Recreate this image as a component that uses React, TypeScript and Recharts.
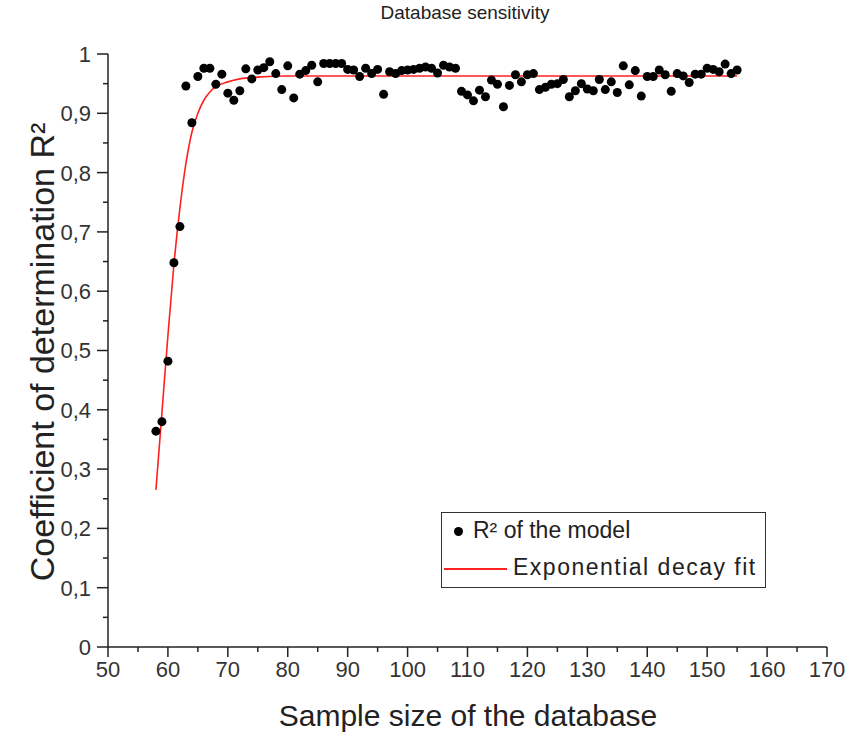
import React from 'react';
import { ComposedChart, Scatter, Line, XAxis, YAxis } from 'recharts';

// Sample size of the database (x) and R² of the model (y)
const sampleSizes = [
  58, 59, 60, 61, 62, 63, 64, 65, 66, 67, 68, 69, 70, 71, 72, 73, 74, 75, 76, 77,
  78, 79, 80, 81, 82, 83, 84, 85, 86, 87, 88, 89, 90, 91, 92, 93, 94, 95, 96, 97,
  98, 99, 100, 101, 102, 103, 104, 105, 106, 107, 108, 109, 110, 111, 112, 113, 114, 115, 116, 117,
  118, 119, 120, 121, 122, 123, 124, 125, 126, 127, 128, 129, 130, 131, 132, 133, 134, 135, 136, 137,
  138, 139, 140, 141, 142, 143, 144, 145, 146, 147, 148, 149, 150, 151, 152, 153, 154, 155,
];
const r2Values = [
  0.364, 0.380, 0.482, 0.648, 0.709, 0.946, 0.884, 0.962, 0.976, 0.976, 0.949, 0.966, 0.934, 0.922, 0.938, 0.975, 0.958, 0.973, 0.977, 0.987,
  0.967, 0.940, 0.980, 0.926, 0.966, 0.972, 0.981, 0.953, 0.984, 0.984, 0.984, 0.984, 0.974, 0.973, 0.962, 0.976, 0.967, 0.974, 0.932, 0.970,
  0.967, 0.972, 0.973, 0.974, 0.976, 0.978, 0.976, 0.968, 0.981, 0.978, 0.976, 0.937, 0.931, 0.921, 0.939, 0.928, 0.956, 0.949, 0.911, 0.947,
  0.965, 0.953, 0.965, 0.967, 0.940, 0.944, 0.949, 0.950, 0.957, 0.928, 0.938, 0.950, 0.941, 0.938, 0.957, 0.940, 0.953, 0.935, 0.980, 0.948,
  0.972, 0.929, 0.962, 0.962, 0.973, 0.965, 0.937, 0.967, 0.963, 0.952, 0.966, 0.966, 0.976, 0.974, 0.970, 0.983, 0.967, 0.973,
];

// Exponential decay fit
const fitX = [58, 59, 60, 61, 62, 63, 64, 65, 66, 67, 68, 70, 72, 75, 80, 100, 130, 155];
const fitY = [0.265, 0.395, 0.525, 0.645, 0.74, 0.815, 0.868, 0.9, 0.922, 0.936, 0.945, 0.953, 0.958, 0.961, 0.963, 0.963, 0.963, 0.963];

const xTicks = [50, 55, 60, 65, 70, 75, 80, 85, 90, 95, 100, 105, 110, 115, 120, 125, 130, 135, 140, 145, 150, 155, 160, 165, 170];
const xTickLabels = ['50', '60', '70', '80', '90', '100', '110', '120', '130', '140', '150', '160', '170'];
const yTicks = [0, 0.05, 0.1, 0.15, 0.2, 0.25, 0.3, 0.35, 0.4, 0.45, 0.5, 0.55, 0.6, 0.65, 0.7, 0.75, 0.8, 0.85, 0.9, 0.95, 1];
const yTickLabels = ['0', '0,1', '0,2', '0,3', '0,4', '0,5', '0,6', '0,7', '0,8', '0,9', '1'];

const title = 'Database sensitivity';
const xTitle = 'Sample size of the database';
const yTitle = 'Coefficient of determination R²';
const seriesNames = ['R² of the model', 'Exponential decay fit'];

const points = sampleSizes.map((x, i) => ({ x, y: r2Values[i] }));
const fit = fitX.map((x, i) => ({ x, y: fitY[i] }));

const FONT = '"Liberation Sans", Arial, sans-serif';
const AX = '#222';

const xLabelFor = (v: number) => xTickLabels.find((t) => Number(t) === v);
const yLabelFor = (v: number) => yTickLabels.find((t) => Math.abs(Number(t.replace(',', '.')) - v) < 1e-6);

const BottomTick = (props: any) => {
  const { x, y, payload } = props;
  const label = xLabelFor(payload.value);
  return (
    <g>
      <line x1={x} x2={x} y1={y} y2={y + (label ? 10 : 5)} stroke={AX} strokeWidth={1.5} />
      {label && (
        <text x={x} y={y + 30} textAnchor="middle" fontFamily={FONT} fontSize={22} fill="#333">
          {label}
        </text>
      )}
    </g>
  );
};

const TopTick = (props: any) => {
  const { x, y, payload } = props;
  const label = xLabelFor(payload.value);
  return <line x1={x} x2={x} y1={y} y2={y + (label ? 10 : 5)} stroke={AX} strokeWidth={1.5} />;
};

const LeftTick = (props: any) => {
  const { x, y, payload } = props;
  const label = yLabelFor(payload.value);
  return (
    <g>
      <line x1={x} x2={x - (label ? 11 : 5)} y1={y} y2={y} stroke={AX} strokeWidth={1.5} />
      {label && (
        <text x={x - 17} y={y} dy="0.36em" textAnchor="end" fontFamily={FONT} fontSize={22} fill="#333">
          {label}
        </text>
      )}
    </g>
  );
};

const RightTick = (props: any) => {
  const { x, y, payload } = props;
  const label = yLabelFor(payload.value);
  return <line x1={x} x2={x - (label ? 10 : 5)} y1={y} y2={y} stroke={AX} strokeWidth={1.5} />;
};

const Dot = (props: any) => {
  const { cx, cy } = props;
  return <circle cx={cx} cy={cy} r={4.5} fill="#000" />;
};

const LegendBox = () => (
  <div
    style={{
      position: 'absolute',
      left: 441,
      top: 512,
      width: 325,
      height: 76,
      border: '1px solid #333',
      background: '#fff',
      fontFamily: FONT,
      fontSize: 23,
      color: '#222',
      boxSizing: 'border-box',
    }}
  >
    <div style={{ position: 'absolute', left: 12, top: 14, width: 9, height: 9, borderRadius: '50%', background: '#000' }} />
    <div style={{ position: 'absolute', left: 31, top: 4, whiteSpace: 'nowrap' }}>{seriesNames[0]}</div>
    <div style={{ position: 'absolute', left: 2, top: 55, width: 63, height: 2, background: '#ff2020' }} />
    <div style={{ position: 'absolute', left: 71, top: 41, whiteSpace: 'nowrap', letterSpacing: 1.5 }}>{seriesNames[1]}</div>
  </div>
);

export default function App() {
  return (
    <div style={{ position: 'absolute', left: 0, top: 0, width: 855, height: 739, background: '#fff' }}>
      <ComposedChart width={855} height={739} margin={{ top: 54, right: 28, bottom: 52, left: 0 }}>
        <XAxis
          dataKey="x"
          type="number"
          domain={[50, 170]}
          ticks={xTicks}
          interval={0}
          allowDataOverflow
          height={40}
          tickSize={0}
          tickMargin={0}
          tickLine={false}
          tick={<BottomTick />}
          axisLine={{ stroke: AX, strokeWidth: 1.5 }}
        />
        <XAxis
          xAxisId="top"
          orientation="top"
          dataKey="x"
          type="number"
          domain={[50, 170]}
          ticks={xTicks}
          interval={0}
          allowDataOverflow
          height={0}
          tickSize={0}
          tickMargin={0}
          tickLine={false}
          tick={<TopTick />}
          axisLine={{ stroke: AX, strokeWidth: 1.5 }}
        />
        <YAxis
          dataKey="y"
          type="number"
          domain={[0, 1]}
          ticks={yTicks}
          interval={0}
          allowDataOverflow
          width={108}
          tickSize={0}
          tickMargin={0}
          tickLine={false}
          tick={<LeftTick />}
          axisLine={{ stroke: AX, strokeWidth: 1.5 }}
        />
        <YAxis
          yAxisId="right"
          orientation="right"
          dataKey="y"
          type="number"
          domain={[0, 1]}
          ticks={yTicks}
          interval={0}
          allowDataOverflow
          width={0}
          tickSize={0}
          tickMargin={0}
          tickLine={false}
          tick={<RightTick />}
          axisLine={{ stroke: AX, strokeWidth: 1.5 }}
        />
        <Line
          data={fit}
          dataKey="y"
          type="monotone"
          stroke="#ff2020"
          strokeWidth={1.6}
          dot={false}
          activeDot={false}
          isAnimationActive={false}
          name={seriesNames[1]}
        />
        <Scatter data={points} dataKey="y" fill="#000" shape={<Dot />} isAnimationActive={false} name={seriesNames[0]} />
      </ComposedChart>
      <div
        style={{
          position: 'absolute',
          left: 0,
          width: 930,
          top: 2,
          textAlign: 'center',
          fontFamily: FONT,
          fontSize: 19,
          color: '#222',
        }}
      >
        {title}
      </div>
      <div
        style={{
          position: 'absolute',
          left: 0,
          width: 936,
          top: 699,
          textAlign: 'center',
          fontFamily: FONT,
          fontSize: 30,
          color: '#222',
          whiteSpace: 'nowrap',
        }}
      >
        {xTitle}
      </div>
      <div
        style={{
          position: 'absolute',
          left: 42,
          top: 352,
          transform: 'translate(-50%, -50%) rotate(-90deg)',
          fontFamily: FONT,
          fontSize: 34,
          color: '#222',
          whiteSpace: 'nowrap',
        }}
      >
        {yTitle}
      </div>
      <LegendBox />
    </div>
  );
}
